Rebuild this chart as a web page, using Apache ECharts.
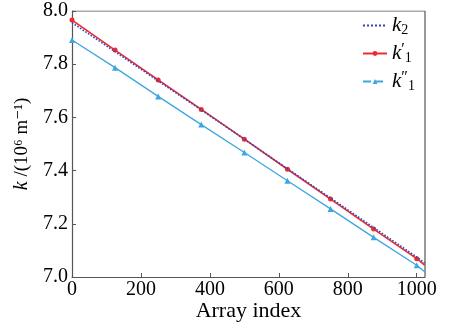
<!DOCTYPE html>
<html><head><meta charset="utf-8">
<script src="https://cdn.jsdelivr.net/npm/echarts@6/dist/echarts.min.js"></script>
<style>html,body{margin:0;padding:0;background:#fff}#c{width:456px;height:323px}</style>
</head><body><div id="c"></div>
<script>
var xIndex = [0,125,250,375,500,625,750,875,1000,1023];
var k2 = [7.956,7.847,7.737,7.628,7.518,7.407,7.297,7.186,7.075,7.052];
var k1p = [7.966,7.853,7.741,7.630,7.518,7.405,7.293,7.180,7.069,7.045];
var k1pp = [7.891,7.787,7.679,7.573,7.468,7.362,7.256,7.149,7.044,7.020];
var xTicks = [0,200,400,600,800,1000];
var yTicks = [7.0,7.2,7.4,7.6,7.8,8.0];
var FONT = "'Liberation Serif', 'DejaVu Serif', serif";

function pts(vals){
  return xIndex.map(function(x,i){
    var d = {value:[x, vals[i]]};
    if (i === xIndex.length-1) d.symbol = 'none';
    return d;
  });
}
var chart = echarts.init(document.getElementById('c'));
var rich = {
  k:{fontFamily:FONT,fontStyle:'italic',fontSize:21,color:'#000'},
  p:{fontFamily:FONT,fontSize:16,color:'#000',verticalAlign:'top',padding:[0,0,6,0]},
  s:{fontFamily:FONT,fontSize:14,color:'#000',padding:[9,0,0,0]}
};
chart.setOption({
  animation:false,
  grid:{left:72,right:31,top:11,bottom:46,containLabel:false,outerBoundsMode:'none'},
  legend:{
    orient:'vertical', right:36, top:10, itemGap:5, itemWidth:24, itemHeight:6,
    textStyle:{rich:rich, fontFamily:FONT},
    data:[
      {name:'k2', itemStyle:{color:'rgba(0,0,0,0)',borderWidth:0}},
      {name:'k1p'},
      {name:'k1pp', lineStyle:{type:'dashed'}}
    ],
    formatter:function(n){
      if(n==='k2') return '{k|k}{s|2}';
      if(n==='k1p') return '{k|k}{p|′}{s|1}';
      return '{k|k}{p|″}{s|1}';
    }
  },
  xAxis:{
    type:'value', min:0, max:1024, interval:200,
    name:'Array index', nameLocation:'middle', nameGap:23, nameMoveOverlap:false,
    nameTextStyle:{fontFamily:FONT,fontSize:22,color:'#000'},
    axisLine:{show:true,onZero:false,lineStyle:{color:'#555',width:1.2}},
    axisTick:{inside:true,length:4,lineStyle:{color:'#555'}},
    axisLabel:{fontFamily:FONT,fontSize:20,color:'#000',margin:3,showMaxLabel:false,
      formatter:function(v){return xTicks.indexOf(v)>=0?String(v):'';}},
    splitLine:{show:false}
  },
  yAxis:{
    type:'value', min:7.0, max:8.0, interval:0.2,
    name:'{k|k} /(10⁶ m⁻¹)', nameLocation:'middle', nameGap:40, nameRotate:90, nameMoveOverlap:false,
    nameTextStyle:{fontFamily:FONT,fontSize:19,color:'#000',rich:{k:{fontFamily:FONT,fontStyle:'italic',fontSize:20,color:'#000'}}},
    axisLine:{show:true,lineStyle:{color:'#555',width:1.2}},
    axisTick:{inside:true,length:4,lineStyle:{color:'#555'}},
    axisLabel:{fontFamily:FONT,fontSize:20,color:'#000',margin:4,
      formatter:function(v){var t=Math.round(v*10)/10; return yTicks.indexOf(t)>=0?t.toFixed(1):'';}},
    splitLine:{show:false}
  },
  series:[
    {name:'k2',type:'line',data:pts(k2),symbol:'none',
      lineStyle:{color:'#3046b8',width:1.6,type:'dotted'},itemStyle:{color:'#3046b8'},z:3},
    {name:'k1p',type:'line',data:pts(k1p),symbol:'circle',symbolSize:5,
      lineStyle:{color:'#ee2a2e',width:1.6},itemStyle:{color:'#ee2a2e'},z:2},
    {name:'k1pp',type:'line',data:pts(k1pp),symbol:'triangle',symbolSize:6,
      lineStyle:{color:'#3ea6de',width:1.3},itemStyle:{color:'#3ea6de'},z:2},
    {type:'line',data:[[1024,7],[1024,8]],symbol:'none',silent:true,lineStyle:{color:'#555',width:1.2},z:1},
    {type:'line',data:[[0,8],[1024,8]],symbol:'none',silent:true,lineStyle:{color:'#555',width:1.2},z:1}
  ]
});
</script></body></html>
